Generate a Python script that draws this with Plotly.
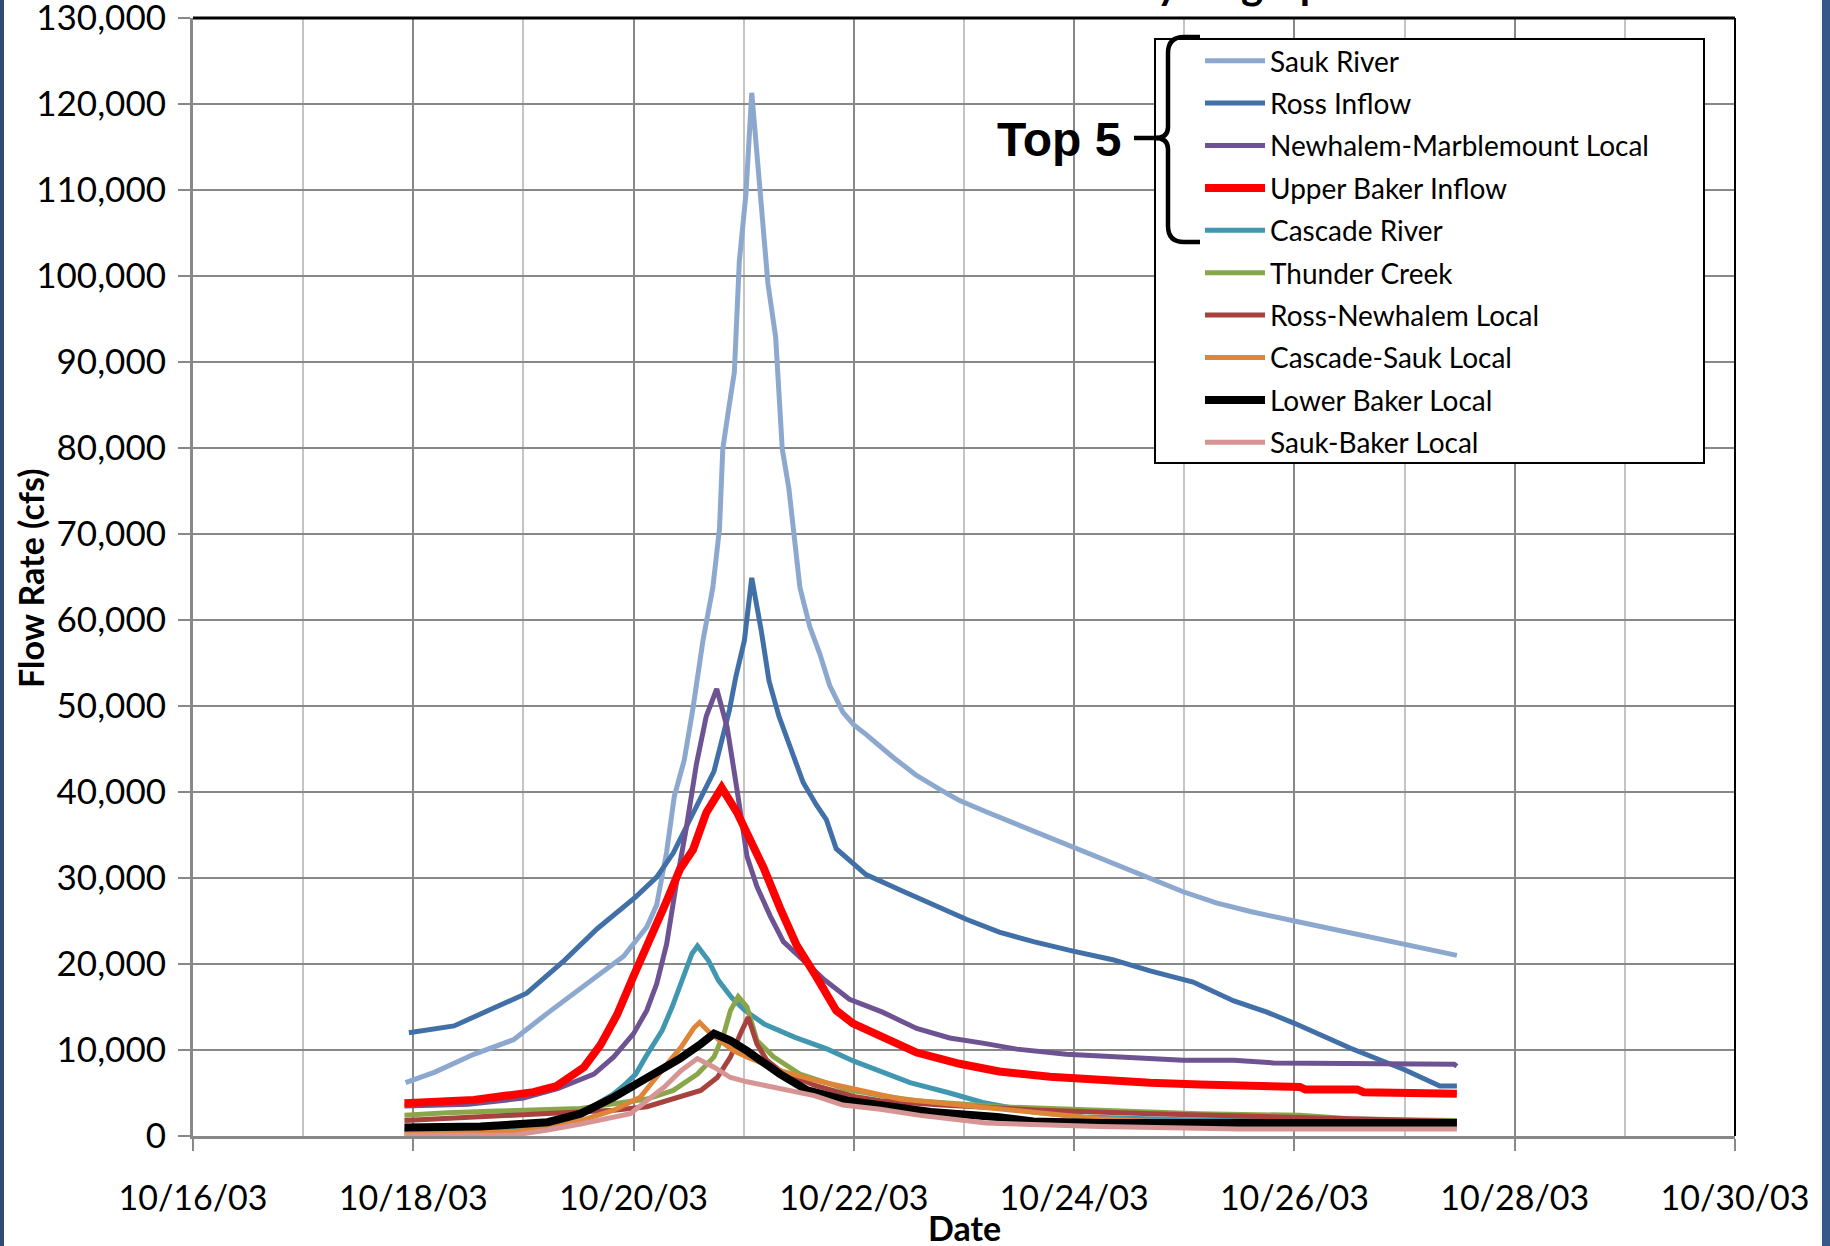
import pandas as pd
import plotly.graph_objects as go

# ---------------- data (days after 10/16/03 00:00, flow in cfs) ----------------
sauk_t = [1.93, 2.19, 2.55, 2.91, 3.21, 3.55, 3.91, 4.12, 4.21, 4.30, 4.37, 4.46, 4.54, 4.63, 4.72, 4.78, 4.81, 4.87,
          4.915, 4.96, 5.02, 5.073, 5.14, 5.22, 5.29, 5.35, 5.41, 5.51, 5.60, 5.69, 5.78, 5.90, 6.0, 6.11, 6.35, 6.56,
          6.78, 6.96, 7.20, 7.45, 7.69, 7.93, 8.23, 8.54, 8.78, 8.99, 9.29, 9.60, 10.0, 10.51, 11.0, 11.475]
sauk_q = [6200, 7400, 9500, 11200, 14200, 17500, 20900, 24300, 26900, 33000, 39500, 43700, 49800, 57600, 63800, 70600,
          79900, 85100, 88800, 101700, 109500, 121300, 111100, 99100, 92900, 79900, 75300, 63800, 59200, 56100, 52400,
          49300, 47800, 46700, 44100, 42000, 40300, 39000, 37700, 36400, 35100, 34000, 32300, 30800, 29500, 28400,
          27100, 26100, 25000, 23600, 22400, 21000]

ross_t = [1.96, 2.37, 2.70, 3.03, 3.37, 3.67, 4.02, 4.21, 4.36, 4.51, 4.73, 4.87, 4.93, 5.006, 5.073, 5.16, 5.23, 5.32,
          5.45, 5.54, 5.66, 5.75, 5.84, 6.11, 6.42, 6.72, 7.02, 7.32, 7.63, 7.99, 8.35, 8.69, 9.08, 9.45, 9.75, 10.0,
          10.51, 11.0, 11.32, 11.475]
ross_q = [12000, 12800, 14700, 16600, 20400, 24100, 27800, 30100, 32900, 36800, 42400, 49500, 53500, 57600, 64900,
          58700, 52900, 48800, 44100, 41100, 38500, 36800, 33400, 30400, 28600, 26900, 25200, 23700, 22600, 21500,
          20500, 19200, 17900, 15700, 14400, 13100, 10200, 7700, 5800, 5800]

newh_t = [1.92, 2.5, 3.0, 3.31, 3.64, 3.82, 4.0, 4.12, 4.21, 4.30, 4.39, 4.48, 4.57, 4.66, 4.755, 4.85, 4.94, 5.03, 5.12,
          5.24, 5.36, 5.54, 5.72, 5.96, 6.26, 6.57, 6.87, 7.17, 7.48, 7.93, 8.23, 8.54, 8.99, 9.45, 9.81, 11.45, 11.475]
newh_q = [3500, 3700, 4400, 5500, 7200, 9200, 11900, 14600, 17700, 22300, 29500, 35900, 43200, 48800, 52000, 47500,
          40200, 32500, 29000, 25600, 22600, 20400, 18300, 15900, 14400, 12500, 11400, 10800, 10100, 9500, 9300, 9000,
          8800, 8800, 8500, 8350, 8100]

upper_t = [1.92, 2.25, 2.55, 2.85, 3.09, 3.30, 3.55, 3.70, 3.85, 4.0, 4.15, 4.30, 4.42, 4.54, 4.66, 4.80, 4.94, 5.06,
           5.18, 5.33, 5.48, 5.66, 5.84, 5.99, 6.26, 6.57, 6.96, 7.32, 7.78, 8.23, 8.69, 9.14, 9.60, 10.05, 10.1, 10.57,
           10.63, 11.18, 11.24, 11.475]
upper_q = [3800, 3900, 4200, 4700, 5100, 5800, 8000, 10600, 14100, 18600, 22800, 27300, 31000, 33300, 37600, 40500,
           37600, 34600, 31200, 26500, 22200, 18500, 14600, 13100, 11600, 9700, 8400, 7500, 6900, 6500, 6200, 6000,
           5800, 5700, 5400, 5400, 5100, 5100, 4900, 4900]

casc_t = [1.92, 2.4, 2.97, 3.3, 3.52, 3.82, 3.93, 4.02, 4.11, 4.26, 4.35, 4.44, 4.53, 4.58, 4.68, 4.77, 4.89, 5.01,
          5.19, 5.46, 5.76, 6.0, 6.26, 6.51, 6.87, 7.17, 7.63, 8.08, 9.0, 10.0, 11.0, 11.475]
casc_q = [700, 700, 900, 1500, 2600, 4900, 6100, 7200, 9200, 12300, 15000, 18100, 21200, 22100, 20400, 18100, 16100,
          14600, 13000, 11500, 10100, 8700, 7500, 6200, 5000, 3900, 2800, 2200, 1900, 1800, 1700, 1600]

thun_t = [1.92, 2.31, 2.76, 3.52, 3.82, 4.12, 4.36, 4.58, 4.73, 4.82, 4.88, 4.95, 5.03, 5.12, 5.27, 5.51, 5.94, 6.24,
          6.57, 7.32, 8.23, 9.14, 10.05, 10.5, 11.0, 11.475]
thun_q = [2400, 2700, 2900, 3200, 3750, 4300, 5300, 7200, 9200, 11900, 14600, 16200, 15000, 11100, 9200, 7200, 5400,
          4700, 4100, 3400, 3000, 2600, 2400, 2000, 1900, 1800]

rn_t = [1.92, 2.61, 3.37, 3.82, 4.12, 4.42, 4.61, 4.76, 4.88, 4.97, 5.04, 5.12, 5.21, 5.33, 5.64, 6.0, 6.24, 6.8, 7.7,
        8.7, 10.05, 11.0, 11.475]
rn_q = [1800, 2200, 2600, 3000, 3400, 4500, 5300, 6800, 9200, 11900, 13800, 10700, 8800, 7600, 5900, 4600, 4100, 3600,
        3000, 2600, 2200, 1800, 1700]

cs_t = [1.92, 2.91, 3.22, 3.52, 3.82, 4.06, 4.28, 4.43, 4.55, 4.60, 4.70, 4.79, 4.91, 5.03, 5.33, 5.64, 6.0, 6.24, 6.42,
        7.32, 8.23, 9.0, 10.05, 11.475]
cs_q = [300, 500, 1000, 1800, 3000, 4500, 8000, 10300, 12600, 13200, 11900, 11100, 9900, 9200, 7600, 6500, 5400, 4800,
        4300, 3200, 2000, 1500, 1200, 1100]

lb_t = [1.92, 2.61, 3.22, 3.52, 3.82, 4.12, 4.42, 4.61, 4.73, 4.88, 5.03, 5.33, 5.58, 5.94, 6.24, 6.7, 7.3, 7.63, 8.23,
        9.5, 10.3, 11.475]
lb_q = [1000, 1100, 1600, 2600, 4500, 6700, 9000, 10700, 11900, 11100, 9900, 7200, 5300, 4100, 3500, 2800, 2200, 1700,
        1500, 1500, 1500, 1500]

sb_t = [1.92, 2.91, 3.22, 3.52, 3.97, 4.28, 4.43, 4.58, 4.73, 4.88, 5.03, 5.33, 5.64, 5.9, 6.24, 6.6, 7.2, 8.23, 9.5,
        11.475]
sb_q = [100, 100, 700, 1400, 2600, 5700, 7600, 9000, 8000, 6800, 6300, 5500, 4700, 3600, 3100, 2400, 1500, 1100, 800,
        800]

series_names = ["Sauk River", "Ross Inflow", "Newhalem-Marblemount Local", "Upper Baker Inflow", "Cascade River",
                "Thunder Creek", "Ross-Newhalem Local", "Cascade-Sauk Local", "Lower Baker Local", "Sauk-Baker Local"]
series_t = [sauk_t, ross_t, newh_t, upper_t, casc_t, thun_t, rn_t, cs_t, lb_t, sb_t]
series_q = [sauk_q, ross_q, newh_q, upper_q, casc_q, thun_q, rn_q, cs_q, lb_q, sb_q]

x_tick_dates = ["2003-10-16", "2003-10-18", "2003-10-20", "2003-10-22", "2003-10-24", "2003-10-26", "2003-10-28",
                "2003-10-30"]
x_tick_labels = ["10/16/03", "10/18/03", "10/20/03", "10/22/03", "10/24/03", "10/26/03", "10/28/03", "10/30/03"]
y_tick_values = [0, 10000, 20000, 30000, 40000, 50000, 60000, 70000, 80000, 90000, 100000, 110000, 120000, 130000]

# ---------------- styles ----------------
colors = ["#8DA8CE", "#4170A8", "#6D5391", "#FF0000", "#4197B0", "#8AA64A", "#A8423F", "#DF8538", "#000000",
          "#D69594"]
widths = [5, 5, 5, 8, 5, 5, 5, 5, 8, 5]

W, H = 1830, 1246
L, R, T, B = 193, 1735, 18, 1136
FONT = "Lato"


def px(x):
    return (x - L) / (R - L)


def py(y):
    return (B - y) / (B - T)


base = pd.Timestamp("2003-10-16")
fig = go.Figure()
for name, t, q, c, w in zip(series_names, series_t, series_q, colors, widths):
    fig.add_trace(go.Scatter(
        x=base + pd.to_timedelta(t, unit="D"), y=q, mode="lines", name=name,
        legendgroup=name,
        line=dict(color=c, width=w, shape="linear"),
    ))

grid_major = "#888888"
grid_minor = "#C4C4C4"

fig.update_layout(
    width=W, height=H,
    margin=dict(l=L, r=W - R, t=T, b=H - B, pad=0, autoexpand=False),
    paper_bgcolor="white", plot_bgcolor="white",
    font=dict(family=FONT, color="black", size=34),
    showlegend=True,
    legend=dict(
        x=px(1200), y=py(36), xanchor="left", yanchor="top",
        bgcolor="rgba(0,0,0,0)", borderwidth=0,
        font=dict(family=FONT, size=28, color="black"),
        tracegroupgap=3, itemwidth=60,
    ),
    xaxis=dict(
        type="date", automargin=False,
        range=["2003-10-16", "2003-10-30"],
        tickmode="array", tickvals=x_tick_dates, ticktext=x_tick_labels,
        showgrid=True, gridcolor=grid_major, gridwidth=2,
        ticks="outside", ticklen=12, tickwidth=2, tickcolor=grid_major,
        showline=True, linecolor=grid_major, linewidth=3,
        tickfont=dict(family=FONT, size=34, color="black"),
        ticklabelstandoff=18, ticklabeloverflow="allow",
        minor=dict(dtick=86400000, tick0="2003-10-16", showgrid=True, gridcolor=grid_minor, gridwidth=2, ticks=""),
        zeroline=False,
    ),
    yaxis=dict(
        automargin=False,
        range=[0, 130000], tickmode="array", tickvals=y_tick_values, tickformat=",d",
        showgrid=True, gridcolor=grid_major, gridwidth=2,
        ticks="outside", ticklen=12, tickwidth=2, tickcolor=grid_major,
        showline=True, linecolor=grid_major, linewidth=3,
        tickfont=dict(family=FONT, size=35, color="black"),
        ticklabelstandoff=5, ticklabeloverflow="allow",
        zeroline=False,
    ),
)

# plot-area frame (top and right edges are black)
fig.add_shape(type="line", xref="paper", yref="paper", x0=0, x1=1, y0=1, y1=1,
              line=dict(color="black", width=3), layer="above")
fig.add_shape(type="line", xref="paper", yref="paper", x0=1, x1=1, y0=0, y1=1,
              line=dict(color="black", width=2), layer="above")

# legend box
fig.add_shape(type="rect", xref="paper", yref="paper", x0=px(1155), x1=px(1704), y0=py(463), y1=py(39),
              line=dict(color="black", width=2), fillcolor="white", layer="above")


# brace around top-5 entries
def pt(x, y):
    return f"{px(x):.5f},{py(y):.5f}"


brace = (f"M{pt(1200, 37)} L{pt(1184, 37)} Q{pt(1168, 37)} {pt(1168, 53)} L{pt(1168, 127)} "
         f"Q{pt(1168, 138)} {pt(1155, 138)} Q{pt(1168, 138)} {pt(1168, 149)} L{pt(1168, 226)} "
         f"Q{pt(1168, 242)} {pt(1184, 242)} L{pt(1200, 242)}")
fig.add_shape(type="path", xref="paper", yref="paper", path=brace, line=dict(color="black", width=4.5),
              layer="above")
fig.add_shape(type="line", xref="paper", yref="paper", x0=px(1134), x1=px(1158), y0=py(138), y1=py(138),
              line=dict(color="black", width=4.5), layer="above")

fig.add_annotation(text="<b>Top 5</b>", xref="paper", yref="paper", x=px(1123), y=py(139), xanchor="right",
                   yanchor="middle", showarrow=False,
                   font=dict(family="Liberation Sans", size=48, color="black"))

# axis titles
fig.add_annotation(text="<b>Flow Rate (cfs)</b>", xref="paper", yref="paper", x=px(30), y=py(578),
                   xanchor="center", yanchor="middle", textangle=-90, showarrow=False,
                   font=dict(family=FONT, size=34, color="black"))
fig.add_annotation(text="<b>Date</b>", xref="paper", yref="paper", x=px(964), y=py(1227),
                   xanchor="center", yanchor="middle", showarrow=False,
                   font=dict(family=FONT, size=34, color="black"))

# chart title (mostly cut off at the top edge of the picture)
fig.add_annotation(text="<b>October 2003 Storm Event Inflow Hydrographs</b>", xref="paper", yref="paper",
                   x=px(925), y=py(-17), xanchor="center", yanchor="middle", showarrow=False,
                   font=dict(family=FONT, size=42, color="black"))

# slide background edges
fig.add_shape(type="rect", xref="paper", yref="paper", x0=px(0), x1=px(4), y0=py(H), y1=py(0),
              line=dict(width=0), fillcolor="#2F4B73", layer="above")
fig.add_shape(type="rect", xref="paper", yref="paper", x0=px(1822), x1=px(1830), y0=py(H), y1=py(0),
              line=dict(width=0), fillcolor="#37598A", layer="above")

fig.write_html("out.html")
